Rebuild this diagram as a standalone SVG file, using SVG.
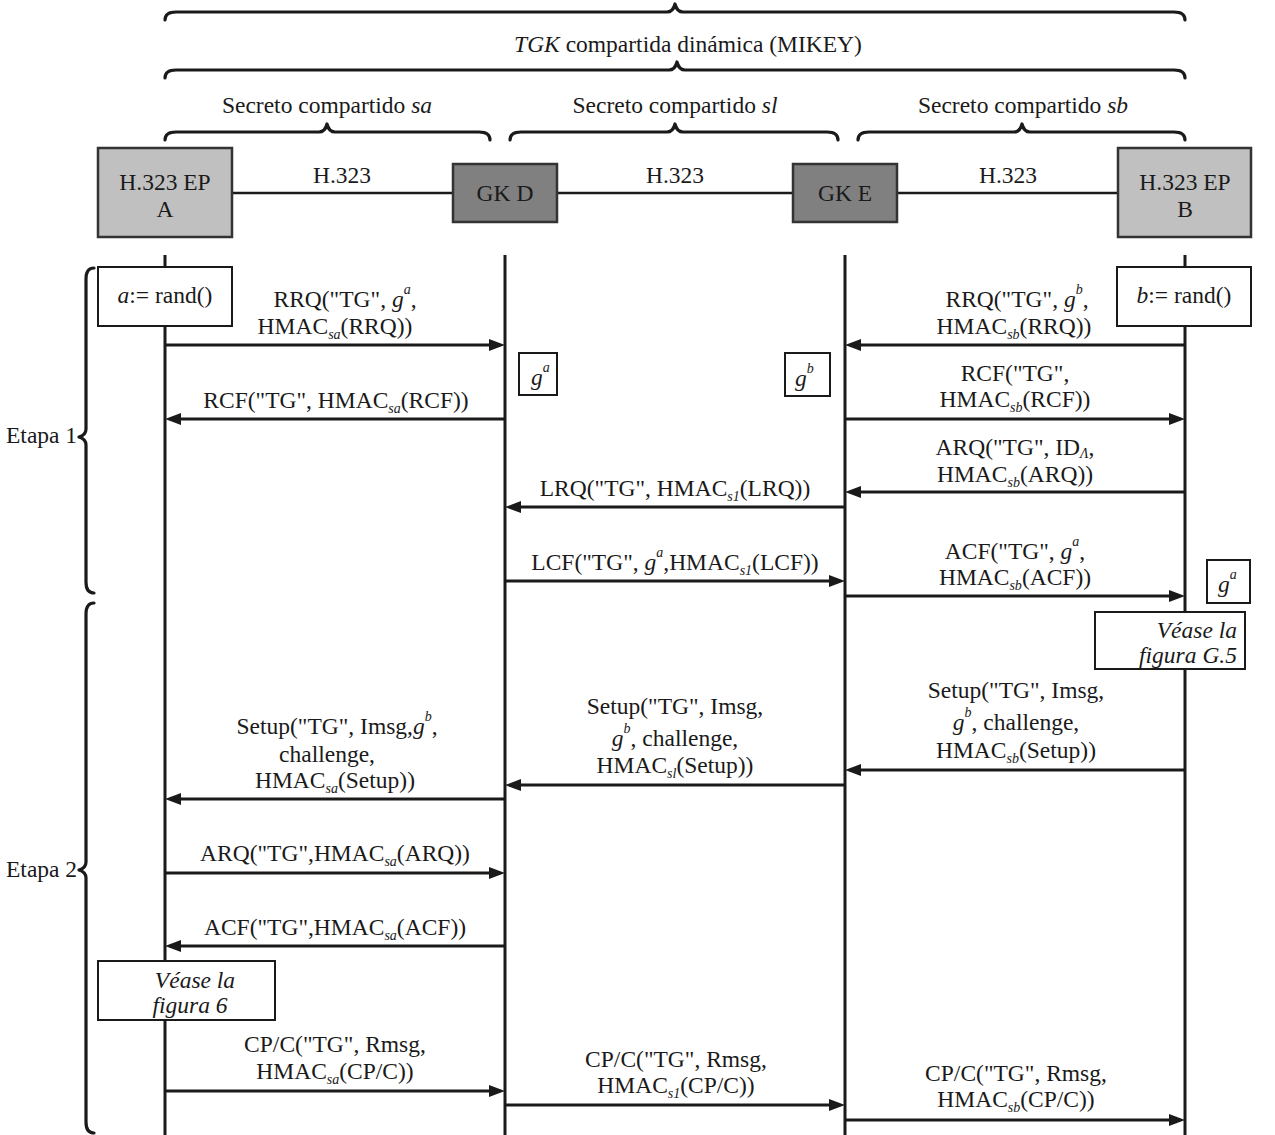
<svg xmlns="http://www.w3.org/2000/svg" width="1275" height="1135" viewBox="0 0 1275 1135">
<style>
text{font-family:"Liberation Serif","Times New Roman",serif;font-size:23.5px;fill:#1a1a1a}
.c{text-anchor:middle}
.i{font-style:italic}
.sub{font-style:italic;font-size:14px}
.sup{font-style:italic;font-size:14px}
.brace{fill:none;stroke:#1a1a1a;stroke-width:3.2;stroke-linecap:round;stroke-linejoin:round}
.life{stroke:#1a1a1a;stroke-width:3;fill:none}
.msg{stroke:#1a1a1a;stroke-width:3;fill:none;marker-end:url(#ah)}
.box{fill:#fff;stroke:#1a1a1a;stroke-width:2}
.ep{fill:#c0c0c0;stroke:#333;stroke-width:2.5}
.gk{fill:#808080;stroke:#333;stroke-width:2.5}
.link{stroke:#1a1a1a;stroke-width:2.5}
</style>
<defs>
<marker id="ah" viewBox="0 0 16 12" refX="6" refY="6" markerWidth="16" markerHeight="12" orient="auto" markerUnits="userSpaceOnUse">
<path d="M0,0 L16,6 L0,12 z" fill="#1a1a1a"/>
</marker>
</defs>

<g id="braces">
<path class="brace" d="M165,20 Q165,12 176,12 L667,12 Q673,12 675,4 Q677,12 683,12 L1174,12 Q1185,12 1185,20"/>
<path class="brace" d="M165,78 Q165,70 176,70 L669,70 Q675,70 677,62 Q679,70 685,70 L1174,70 Q1185,70 1185,78"/>
<path class="brace" d="M165,140 Q165,132 176,132 L319,132 Q325,132 327,124 Q329,132 335,132 L479,132 Q490,132 490,140"/>
<path class="brace" d="M510,140 Q510,132 521,132 L667,132 Q673,132 675,124 Q677,132 683,132 L827,132 Q838,132 838,140"/>
<path class="brace" d="M858,140 Q858,132 869,132 L1014,132 Q1020,132 1022,124 Q1024,132 1030,132 L1174,132 Q1185,132 1185,140"/>
<path class="brace" d="M94,268 Q86,268 86,279 L86,429 Q86,435 79,437 Q86,439 86,445 L86,582 Q86,593 94,593"/>
<path class="brace" d="M94,603 Q86,603 86,614 L86,862 Q86,868 79,870 Q86,872 86,878 L86,1122 Q86,1133 94,1133"/>
</g>

<g id="brace-labels">
<text x="688" y="52" class="c"><tspan class="i">TGK</tspan> compartida dinámica (MIKEY)</text>
<text x="327" y="113" class="c">Secreto compartido <tspan class="i">sa</tspan></text>
<text x="675" y="113" class="c">Secreto compartido <tspan class="i">sl</tspan></text>
<text x="1023" y="113" class="c">Secreto compartido <tspan class="i">sb</tspan></text>
<text x="6" y="443">Etapa 1</text>
<text x="6" y="877">Etapa 2</text>
</g>

<g id="links">
<line class="link" x1="232" y1="193" x2="452" y2="193"/>
<line class="link" x1="557" y1="193" x2="792" y2="193"/>
<line class="link" x1="897" y1="193" x2="1118" y2="193"/>
<text x="342" y="183" class="c">H.323</text>
<text x="675" y="183" class="c">H.323</text>
<text x="1008" y="183" class="c">H.323</text>
</g>

<g id="lifelines">
<line class="life" x1="165" y1="255" x2="165" y2="1135"/>
<line class="life" x1="505" y1="255" x2="505" y2="1135"/>
<line class="life" x1="845" y1="255" x2="845" y2="1135"/>
<line class="life" x1="1185" y1="255" x2="1185" y2="1135"/>
</g>

<g id="node-epA">
<rect class="ep" x="98" y="148" width="134" height="89"/>
<text x="165" y="190" class="c">H.323 EP</text>
<text x="165" y="217" class="c">A</text>
</g>
<g id="node-gkD">
<rect class="gk" x="453" y="164" width="104" height="58"/>
<text x="505" y="201" class="c">GK D</text>
</g>
<g id="node-gkE">
<rect class="gk" x="793" y="164" width="104" height="58"/>
<text x="845" y="201" class="c">GK E</text>
</g>
<g id="node-epB">
<rect class="ep" x="1118" y="148" width="133" height="89"/>
<text x="1185" y="190" class="c">H.323 EP</text>
<text x="1185" y="217" class="c">B</text>
</g>

<g id="node-randA">
<rect class="box" x="98" y="267" width="134" height="59"/>
<text x="165" y="303" class="c"><tspan class="i">a</tspan>:= rand()</text>
</g>
<g id="node-randB">
<rect class="box" x="1117" y="267" width="134" height="59"/>
<text x="1184" y="303" class="c"><tspan class="i">b</tspan>:= rand()</text>
</g>
<g id="node-gaD">
<rect class="box" x="519" y="353" width="38" height="42"/>
<text x="531" y="385" class="i">g<tspan class="sup" dy="-13">a</tspan></text>
</g>
<g id="node-gbE">
<rect class="box" x="785" y="353" width="45" height="43"/>
<text x="795" y="386" class="i">g<tspan class="sup" dy="-13">b</tspan></text>
</g>
<g id="node-gaB">
<rect class="box" x="1207" y="560" width="43" height="43"/>
<text x="1218" y="592" class="i">g<tspan class="sup" dy="-13">a</tspan></text>
</g>
<g id="node-veaseG5">
<rect class="box" x="1095" y="612" width="150" height="57"/>
<text x="1237" y="638" class="i" text-anchor="end">Véase la</text>
<text x="1237" y="663" class="i" text-anchor="end">figura G.5</text>
</g>
<g id="node-vease6">
<rect class="box" x="98" y="961" width="177" height="59"/>
<text x="195" y="988" class="i c">Véase la</text>
<text x="190" y="1013" class="i c">figura 6</text>
</g>

<g id="connectors">
<line class="msg" x1="165" y1="345" x2="495" y2="345"/>
<line class="msg" x1="1185" y1="345" x2="855" y2="345"/>
<line class="msg" x1="505" y1="419" x2="175" y2="419"/>
<line class="msg" x1="845" y1="419" x2="1175" y2="419"/>
<line class="msg" x1="1185" y1="492" x2="855" y2="492"/>
<line class="msg" x1="845" y1="507" x2="515" y2="507"/>
<line class="msg" x1="505" y1="581" x2="835" y2="581"/>
<line class="msg" x1="845" y1="596" x2="1175" y2="596"/>
<line class="msg" x1="1185" y1="770" x2="855" y2="770"/>
<line class="msg" x1="845" y1="785" x2="515" y2="785"/>
<line class="msg" x1="505" y1="799" x2="175" y2="799"/>
<line class="msg" x1="165" y1="873" x2="495" y2="873"/>
<line class="msg" x1="505" y1="946" x2="175" y2="946"/>
<line class="msg" x1="165" y1="1091" x2="495" y2="1091"/>
<line class="msg" x1="505" y1="1105" x2="835" y2="1105"/>
<line class="msg" x1="845" y1="1120" x2="1175" y2="1120"/>
</g>

<g id="connector-labels">
<text x="345" y="307" class="c">RRQ("TG", <tspan class="i">g</tspan><tspan class="sup" dy="-13">a</tspan><tspan dy="13">,</tspan></text>
<text x="335" y="334" class="c">HMAC<tspan class="sub" dy="5">sa</tspan><tspan dy="-5">(RRQ))</tspan></text>

<text x="1017" y="307" class="c">RRQ("TG", <tspan class="i">g</tspan><tspan class="sup" dy="-13">b</tspan><tspan dy="13">,</tspan></text>
<text x="1014" y="334" class="c">HMAC<tspan class="sub" dy="5">sb</tspan><tspan dy="-5">(RRQ))</tspan></text>

<text x="336" y="408" class="c">RCF("TG", HMAC<tspan class="sub" dy="5">sa</tspan><tspan dy="-5">(RCF))</tspan></text>

<text x="1015" y="381" class="c">RCF("TG",</text>
<text x="1015" y="407" class="c">HMAC<tspan class="sub" dy="5">sb</tspan><tspan dy="-5">(RCF))</tspan></text>

<text x="1015" y="455" class="c">ARQ("TG", ID<tspan class="sub" dy="3">Λ</tspan><tspan dy="-3">,</tspan></text>
<text x="1015" y="482" class="c">HMAC<tspan class="sub" dy="5">sb</tspan><tspan dy="-5">(ARQ))</tspan></text>

<text x="675" y="496" class="c">LRQ("TG", HMAC<tspan class="sub" dy="5">s1</tspan><tspan dy="-5">(LRQ))</tspan></text>

<text x="675" y="570" class="c">LCF("TG", <tspan class="i">g</tspan><tspan class="sup" dy="-13">a</tspan><tspan dy="13">,HMAC</tspan><tspan class="sub" dy="5">s1</tspan><tspan dy="-5">(LCF))</tspan></text>

<text x="1015" y="559" class="c">ACF("TG", <tspan class="i">g</tspan><tspan class="sup" dy="-13">a</tspan><tspan dy="13">,</tspan></text>
<text x="1015" y="585" class="c">HMAC<tspan class="sub" dy="5">sb</tspan><tspan dy="-5">(ACF))</tspan></text>

<text x="1016" y="698" class="c">Setup("TG", Imsg,</text>
<text x="1016" y="730" class="c"><tspan class="i">g</tspan><tspan class="sup" dy="-13">b</tspan><tspan dy="13">, challenge,</tspan></text>
<text x="1016" y="758" class="c">HMAC<tspan class="sub" dy="5">sb</tspan><tspan dy="-5">(Setup))</tspan></text>

<text x="675" y="714" class="c">Setup("TG", Imsg,</text>
<text x="675" y="746" class="c"><tspan class="i">g</tspan><tspan class="sup" dy="-13">b</tspan><tspan dy="13">, challenge,</tspan></text>
<text x="675" y="773" class="c">HMAC<tspan class="sub" dy="5">sl</tspan><tspan dy="-5">(Setup))</tspan></text>

<text x="337" y="734" class="c">Setup("TG", Imsg,<tspan class="i">g</tspan><tspan class="sup" dy="-13">b</tspan><tspan dy="13">,</tspan></text>
<text x="327" y="762" class="c">challenge,</text>
<text x="335" y="788" class="c">HMAC<tspan class="sub" dy="5">sa</tspan><tspan dy="-5">(Setup))</tspan></text>

<text x="335" y="861" class="c">ARQ("TG",HMAC<tspan class="sub" dy="5">sa</tspan><tspan dy="-5">(ARQ))</tspan></text>
<text x="335" y="935" class="c">ACF("TG",HMAC<tspan class="sub" dy="5">sa</tspan><tspan dy="-5">(ACF))</tspan></text>

<text x="335" y="1052" class="c">CP/C("TG", Rmsg,</text>
<text x="335" y="1079" class="c">HMAC<tspan class="sub" dy="5">sa</tspan><tspan dy="-5">(CP/C))</tspan></text>

<text x="676" y="1067" class="c">CP/C("TG", Rmsg,</text>
<text x="676" y="1093" class="c">HMAC<tspan class="sub" dy="5">s1</tspan><tspan dy="-5">(CP/C))</tspan></text>

<text x="1016" y="1081" class="c">CP/C("TG", Rmsg,</text>
<text x="1016" y="1107" class="c">HMAC<tspan class="sub" dy="5">sb</tspan><tspan dy="-5">(CP/C))</tspan></text>
</g>
</svg>
